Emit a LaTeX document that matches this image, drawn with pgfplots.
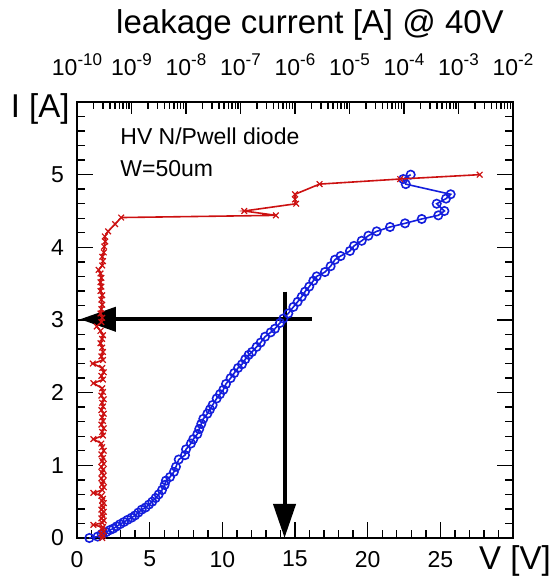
\documentclass[border=0pt]{standalone}
\usepackage{pgfplots}
\pgfplotsset{compat=1.18}
\usetikzlibrary{arrows.meta}
\usepackage{fontspec}
\setmainfont{Liberation Sans}
\definecolor{myred}{RGB}{204,17,17}
\definecolor{myblue}{RGB}{20,30,220}
\newcommand{\tickfont}{\fontsize{11.5}{13}\selectfont}
\newcommand{\bigfont}{\fontsize{16.5}{19}\selectfont}
\newcommand{\tp}[1]{10\raisebox{5pt}{\fontsize{8.5}{9}\selectfont -#1}}
\begin{document}
\begin{tikzpicture}
\pgfplotsset{every axis/.append style={scale only axis, width=218pt, height=218pt, at={(0,0)}, anchor=south west}}
% main linear axis (V vs I)
\begin{axis}[
  xmin=0, xmax=30, ymin=0, ymax=6,
  xtick={0,5,...,30}, xticklabels={0,5,10,15,20,25,{}},
  ytick={0,1,...,6}, yticklabels={0,1,2,3,4,5,{}},
  minor x tick num=4, minor y tick num=4,
  xtick pos=left, ytick pos=both,
  tick align=inside,
  major tick length=8pt, minor tick length=4pt,
  every tick/.style={black, line width=0.7pt},
  axis line style={line width=1pt},
  tick label style={font=\tickfont},
  xticklabel style={yshift=-3pt},
  yticklabel style={xshift=-3pt},
  clip=false,
]
\addplot[myblue, line width=0.8pt, mark=o, mark size=2.1pt, mark options={line width=0.8pt}] coordinates {
(0.85,0.00) (1.42,0.02) (1.70,0.055) (2.00,0.08) (2.27,0.11) (2.50,0.13) (2.73,0.16) (2.96,0.19) (3.23,0.22) (3.48,0.25) (3.76,0.28) (3.99,0.31) (4.22,0.35) (4.45,0.39) (4.72,0.42) (4.95,0.46) (5.18,0.50) (5.41,0.55) (5.62,0.60) (5.85,0.66) (6.03,0.73) (6.12,0.79) (6.40,0.84) (6.67,0.91) (6.81,0.98) (7.00,1.08) (7.43,1.14) (7.50,1.22) (7.84,1.30) (8.00,1.36) (8.28,1.43) (8.41,1.50) (8.55,1.57) (8.69,1.64) (8.97,1.71) (9.15,1.77) (9.33,1.83) (9.61,1.92) (9.84,1.98) (10.07,2.04) (10.25,2.12) (10.57,2.20) (10.82,2.27) (11.08,2.34) (11.35,2.39) (11.58,2.46) (11.81,2.52) (12.04,2.56) (12.36,2.63) (12.64,2.69) (12.94,2.77) (13.33,2.83) (13.62,2.88) (13.97,2.96) (14.20,3.02) (14.54,3.09) (14.89,3.18) (15.18,3.25) (15.46,3.32) (15.69,3.39) (15.98,3.46) (16.26,3.54) (16.49,3.60) (17.06,3.66) (17.45,3.74) (17.75,3.83) (18.14,3.88) (18.78,3.95) (19.06,4.02) (19.59,4.09) (20.05,4.16) (20.62,4.22) (21.54,4.28) (22.57,4.33) (23.72,4.39) (24.86,4.44) (25.28,4.50) (24.75,4.60) (25.39,4.67) (25.71,4.73) (22.62,4.87) (22.45,4.94) (22.96,5.00)
};
\addplot[black, line width=2pt, -{Triangle[length=18pt,width=12pt]}] coordinates {(16.15,3.01) (0.2,3.01)};
\addplot[black, line width=2pt, -{Triangle[length=17pt,width=11pt]}] coordinates {(14.28,3.39) (14.28,0)};
\node[anchor=base west, inner sep=0pt, font=\tickfont] at (axis cs:2.96,5.41) {HV N/Pwell diode};
\node[anchor=base west, inner sep=0pt, font=\tickfont] at (axis cs:2.96,4.97) {W=50um};
\end{axis}
% top log axis (leakage current vs I)
\begin{axis}[
  xmode=log, xmin=1e-10, xmax=1e-2, ymin=0, ymax=6,
  axis x line*=top, hide y axis,
  xtick={1e-10,1e-9,1e-8,1e-7,1e-6,1e-5,1e-4,1e-3,1e-2},
  xticklabels={\tp{10},\tp{9},\tp{8},\tp{7},\tp{6},\tp{5},\tp{4},\tp{3},\tp{2}},
  minor xtick={2e-10,3e-10,4e-10,5e-10,6e-10,7e-10,8e-10,9e-10,
               2e-9,3e-9,4e-9,5e-9,6e-9,7e-9,8e-9,9e-9,
               2e-8,3e-8,4e-8,5e-8,6e-8,7e-8,8e-8,9e-8,
               2e-7,3e-7,4e-7,5e-7,6e-7,7e-7,8e-7,9e-7,
               2e-6,3e-6,4e-6,5e-6,6e-6,7e-6,8e-6,9e-6,
               2e-5,3e-5,4e-5,5e-5,6e-5,7e-5,8e-5,9e-5,
               2e-4,3e-4,4e-4,5e-4,6e-4,7e-4,8e-4,9e-4,
               2e-3,3e-3,4e-3,5e-3,6e-3,7e-3,8e-3,9e-3},
  tick align=inside,
  major tick length=6pt, minor tick length=3.5pt,
  every tick/.style={black, line width=0.7pt},
  axis line style={line width=1pt},
  tick label style={font=\tickfont},
  xticklabel style={anchor=base, yshift=13pt},
  clip=false,
]
\addplot[myred, line width=0.8pt, mark=x, mark size=2pt, mark options={line width=0.6pt}] coordinates {
(2.9e-10,0.00) (3.0e-10,0.03) (2.8e-10,0.06) (3.1e-10,0.09) (2.9e-10,0.12) (3.0e-10,0.15) (2.0e-10,0.18) (2.9e-10,0.21) (3.1e-10,0.24) (2.8e-10,0.27) (3.0e-10,0.30) (2.9e-10,0.33) (3.1e-10,0.36) (2.8e-10,0.39) (3.0e-10,0.42) (2.9e-10,0.45) (3.1e-10,0.48) (2.9e-10,0.51) (3.0e-10,0.54) (2.8e-10,0.58) (2.0e-10,0.62) (2.9e-10,0.66) (3.1e-10,0.70) (2.9e-10,0.74) (3.0e-10,0.78) (2.8e-10,0.82) (3.1e-10,0.86) (2.9e-10,0.90) (3.0e-10,0.94) (2.8e-10,0.98) (3.1e-10,1.02) (2.9e-10,1.06) (3.0e-10,1.10) (2.8e-10,1.15) (3.1e-10,1.20) (2.9e-10,1.25) (2.8e-10,1.30) (2.0e-10,1.36) (3.0e-10,1.41) (2.9e-10,1.46) (3.1e-10,1.51) (2.8e-10,1.56) (3.0e-10,1.61) (2.9e-10,1.66) (3.1e-10,1.71) (2.8e-10,1.76) (3.0e-10,1.81) (2.9e-10,1.86) (3.1e-10,1.91) (2.8e-10,1.96) (3.0e-10,2.01) (2.9e-10,2.06) (2.0e-10,2.13) (3.0e-10,2.18) (2.8e-10,2.23) (3.1e-10,2.28) (2.9e-10,2.34) (1.95e-10,2.40) (3.0e-10,2.45) (2.8e-10,2.50) (3.0e-10,2.56) (2.9e-10,2.62) (2.7e-10,2.68) (2.9e-10,2.74) (3.0e-10,2.79) (2.7e-10,2.85) (2.3e-10,2.91) (2.8e-10,2.97) (2.9e-10,3.03) (2.7e-10,3.09) (2.8e-10,3.15) (2.9e-10,3.21) (2.8e-10,3.28) (2.9e-10,3.34) (2.7e-10,3.40) (2.8e-10,3.46) (2.7e-10,3.52) (2.8e-10,3.58) (2.7e-10,3.64) (2.5e-10,3.69) (2.9e-10,3.75) (3.0e-10,3.81) (2.9e-10,3.87) (3.1e-10,3.93) (3.16e-10,4.01) (3.3e-10,4.08) (3.24e-10,4.15) (3.72e-10,4.22) (5.0e-10,4.32) (6.46e-10,4.41) (4.47e-7,4.44) (1.17e-7,4.50) (1.05e-6,4.60) (1.0e-6,4.66) (1.0e-6,4.73) (2.82e-6,4.87) (8.5e-5,4.94) (2.45e-3,5.00)
};
\end{axis}
\node[anchor=base, inner sep=0pt, font=\bigfont] at (116.5pt,252pt) {leakage current [A] @ 40V};
\node[anchor=base east, inner sep=0pt, font=\bigfont] at (-3.5pt,210pt) {I [A]};
\node[anchor=base, inner sep=0pt, font=\bigfont] at (219pt,-16pt) {V [V]};
\path[use as bounding box] (-38.5pt,-21.5pt) rectangle (237pt,269pt);
\end{tikzpicture}
\end{document}
